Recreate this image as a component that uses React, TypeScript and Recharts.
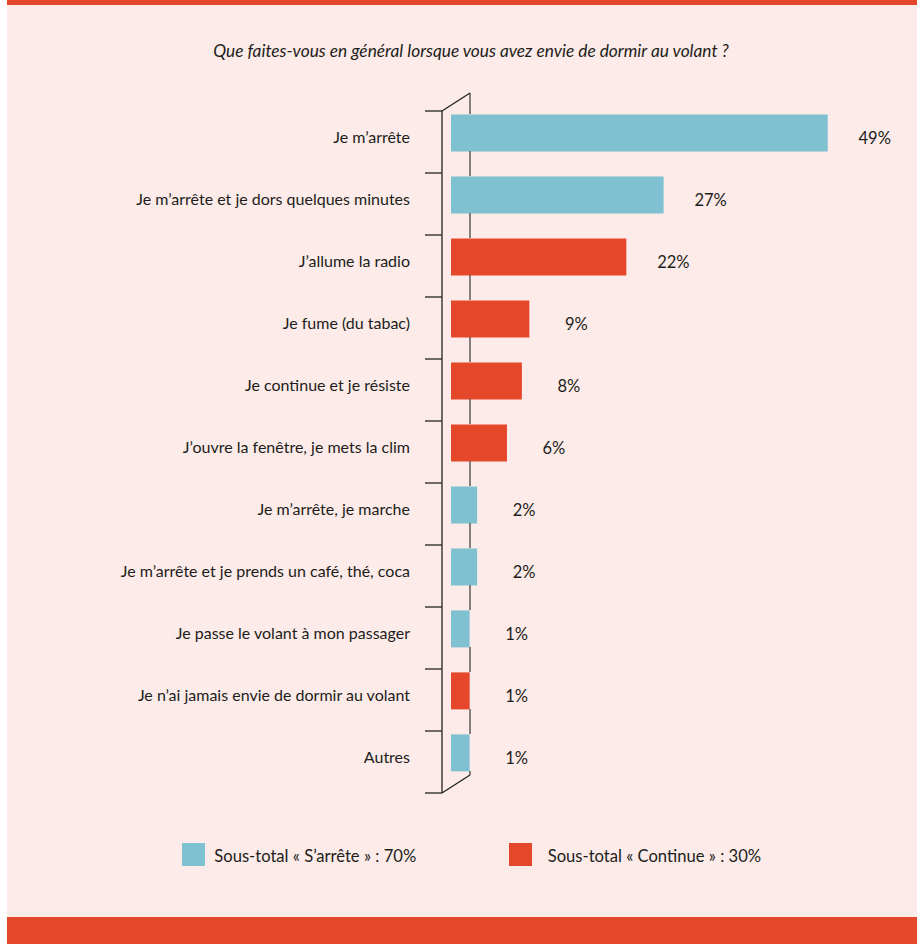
import React from 'react';
import { BarChart, Bar, XAxis, YAxis, Cell, LabelList } from 'recharts';

const title = 'Que faites-vous en général lorsque vous avez envie de dormir au volant ?';

const categories = [
  'Je m’arrête',
  'Je m’arrête et je dors quelques minutes',
  'J’allume la radio',
  'Je fume (du tabac)',
  'Je continue et je résiste',
  'J’ouvre la fenêtre, je mets la clim',
  'Je m’arrête, je marche',
  'Je m’arrête et je prends un café, thé, coca',
  'Je passe le volant à mon passager',
  'Je n’ai jamais envie de dormir au volant',
  'Autres',
];
const values = [49, 27, 22, 9, 8, 6, 2, 2, 1, 1, 1];
const groups = ['S', 'S', 'C', 'C', 'C', 'C', 'S', 'S', 'S', 'C', 'S'];

const legendGroups = ['S', 'C'];
const legendLabels = ['Sous-total « S’arrête » : 70%', 'Sous-total « Continue » : 30%'];

const groupColors: Record<string, string> = { S: '#7fc1d1', C: '#e5472b' };

const AXIS_MIN = -1.5;
const AXIS_MAX = 55;
const BAR_SIZE = 37;

const data = categories.map((label, i) => ({ label, value: values[i], group: groups[i] }));

const FONT = 'Lato, "Noto Sans", sans-serif';
const TEXT = '#1d1d1b';
const PINK = '#fcebe8';
const RED = '#e5472b';

function CategoryTick(props: any) {
  const { x, y, payload, index } = props;
  const top = y - 21.4;
  const bottom = y + 40.6;
  const lift = 18;
  const ax = x - 9;
  const bx = x + 19;
  const half = BAR_SIZE / 2;
  const last = index === categories.length - 1;
  const s = { stroke: '#222', strokeWidth: 1.3 };
  const r = { stroke: '#444', strokeWidth: 1.3 };
  return (
    <g>
      <line x1={x - 26} y1={top} x2={ax} y2={top} {...s} />
      <line x1={ax} y1={top} x2={ax} y2={bottom} {...s} />
      <line x1={bx} y1={top - lift} x2={bx} y2={y - half} {...r} />
      <line x1={bx} y1={y + half} x2={bx} y2={bottom - lift} {...r} />
      {index === 0 && <line x1={ax} y1={top} x2={bx} y2={top - lift} {...s} />}
      {last && <line x1={x - 26} y1={bottom} x2={ax} y2={bottom} {...s} />}
      {last && <line x1={ax} y1={bottom} x2={bx} y2={bottom - lift} {...s} />}
      <text x={x - 41} y={y + 10.6} textAnchor="end" fontFamily={FONT} fontSize={16} fill={TEXT}>
        {payload.value}
      </text>
    </g>
  );
}

function ValueLabel(props: any) {
  const x = Number(props.x);
  const y = Number(props.y);
  const w = Number(props.width);
  const h = Number(props.height);
  return (
    <text x={x + w + 47} y={y + h / 2 + 10.8} textAnchor="middle" fontFamily={FONT} fontSize={16.5} fill={TEXT}>
      {`${props.value}%`}
    </text>
  );
}

export default function App() {
  const legendTextX = [214.3, 547.7];
  const legendBoxX = [182, 509];
  return (
    <div style={{ position: 'absolute', left: 0, top: 0, width: 917, height: 944, background: '#ffffff', overflow: 'hidden' }}>
      <div style={{ position: 'absolute', left: 7, top: 0, width: 910, height: 5, background: RED }} />
      <div style={{ position: 'absolute', left: 7, top: 5, width: 910, height: 912, background: PINK }} />
      <div style={{ position: 'absolute', left: 7, top: 917, width: 910, height: 27, background: RED }} />
      <svg width={917} height={944} style={{ position: 'absolute', left: 0, top: 0 }}>
        <text x={471} y={56.7} textAnchor="middle" fontFamily={FONT} fontStyle="italic" fontSize={17.3} fill={TEXT}>
          {title}
        </text>
        {legendGroups.map((g, i) => (
          <g key={g}>
            <rect x={legendBoxX[i]} y={843} width={23} height={23} fill={groupColors[g]} />
            <text x={legendTextX[i]} y={862.3} fontFamily={FONT} fontSize={16.6} fill={TEXT}>
              {legendLabels[i]}
            </text>
          </g>
        ))}
      </svg>
      <div style={{ position: 'absolute', left: 0, top: 0 }}>
        <BarChart
          width={917}
          height={944}
          data={data}
          layout="vertical"
          margin={{ top: 101.4, right: 44.5, bottom: 160.6, left: 51 }}
        >
          <YAxis
            type="category"
            dataKey="label"
            width={400}
            axisLine={false}
            tickLine={false}
            tickSize={0}
            tickMargin={0}
            interval={0}
            tick={<CategoryTick />}
          />
          <XAxis type="number" domain={[AXIS_MIN, AXIS_MAX]} hide allowDataOverflow />
          <Bar dataKey={(d: any) => [AXIS_MIN, d.value]} barSize={BAR_SIZE} isAnimationActive={false}>
            {data.map((d, i) => (
              <Cell key={i} fill={groupColors[d.group]} />
            ))}
            <LabelList dataKey="value" content={<ValueLabel />} />
          </Bar>
        </BarChart>
      </div>
    </div>
  );
}
